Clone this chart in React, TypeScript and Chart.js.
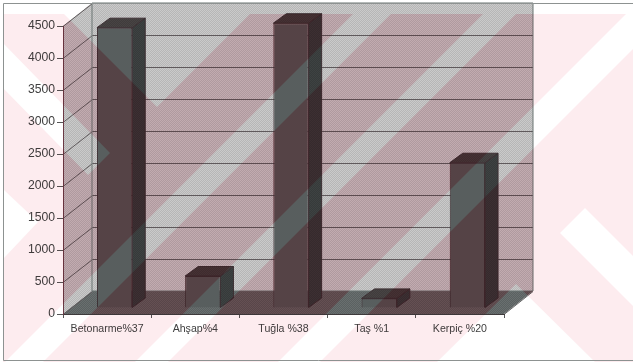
import React, { useEffect, useRef } from "react";
import { Chart, registerables } from "chart.js";

Chart.register(...registerables);

const categories = ["Betonarme%37", "Ahşap%4", "Tuğla %38", "Taş %1", "Kerpiç %20"];
const buildingCounts = [4380, 500, 4450, 150, 2270];

// Projection of the 3D box: wall depth and the bars' place inside it.
const WALL_DX = 29;
const WALL_DY = -23;
const BAR_SHIFT_X = 7.5;
const BAR_SHIFT_Y = -6;
const BAR_DX = 13;
const BAR_DY = -9.5;

type Pt = [number, number];

// Light shapes left open in the pale red backdrop.
const band = (s1: number, s2: number): Pt[] => [
  [s1 - 14, 14],
  [s2 - 14, 14],
  [s2 - 362, 362],
  [s1 - 362, 362],
];
const backdropOpenings: Pt[][] = [
  [[64, 14], [157, 107], [250, 14]],
  [[3, 43], [110, 153], [88, 175], [3, 88]],
  [[4, 190], [38, 222], [4, 258]],
  band(367, 405),
  band(497, 530),
  band(640, 682),
  [[516, 284], [437, 362], [595, 362]],
  [[560, 233], [585, 208], [633, 256], [633, 306]],
];

function grain(r: number, g: number, b: number, d: number): CanvasPattern {
  const tile = document.createElement("canvas");
  tile.width = 2;
  tile.height = 2;
  const c = tile.getContext("2d")!;
  const shade = (k: number) => `rgb(${r + k},${g + k},${b + k})`;
  c.fillStyle = shade(d);
  c.fillRect(0, 0, 2, 2);
  c.fillStyle = shade(-d);
  c.fillRect(1, 0, 1, 1);
  c.fillRect(0, 1, 1, 1);
  return c.createPattern(tile, "repeat")!;
}

function polygon(ctx: CanvasRenderingContext2D, pts: Pt[]) {
  ctx.moveTo(pts[0][0], pts[0][1]);
  pts.slice(1).forEach((p) => ctx.lineTo(p[0], p[1]));
  ctx.closePath();
}

function barFaces(el: any) {
  const { x, y, base, width } = el.getProps(["x", "y", "base", "width"], true);
  const l = x - width / 2 + BAR_SHIFT_X;
  const r = x + width / 2 + BAR_SHIFT_X;
  const t = y + BAR_SHIFT_Y;
  const b = base + BAR_SHIFT_Y;
  const front: Pt[] = [[l, t], [r, t], [r, b], [l, b]];
  const side: Pt[] = [[r, t], [r + BAR_DX, t + BAR_DY], [r + BAR_DX, b + BAR_DY], [r, b]];
  const top: Pt[] = [[l, t], [l + BAR_DX, t + BAR_DY], [r + BAR_DX, t + BAR_DY], [r, t]];
  return { front, side, top };
}

export default function App() {
  const ref = useRef<HTMLCanvasElement>(null);

  useEffect(() => {
    const wallFill = grain(192, 192, 192, 10);
    const floorFill = grain(98, 104, 104, 7);
    const frontFill = grain(88, 94, 94, 7);
    const sideFill = grain(58, 62, 62, 4);
    const topFill = grain(68, 64, 64, 4);

    const boxShapes = (chart: any) => {
      const { left, right, top, bottom } = chart.chartArea;
      const ceiling = top + WALL_DY;
      const back = bottom + WALL_DY;
      const sideWall: Pt[] = [[left, top], [left + WALL_DX, ceiling], [left + WALL_DX, back], [left, bottom]];
      const backWall: Pt[] = [[left + WALL_DX, ceiling], [right + WALL_DX, ceiling], [right + WALL_DX, back], [left + WALL_DX, back]];
      const floor: Pt[] = [[left, bottom], [left + WALL_DX, back], [right + WALL_DX, back], [right, bottom]];
      return { sideWall, backWall, floor };
    };

    const box3d = {
      id: "box3d",
      beforeDraw(chart: any) {
        const ctx: CanvasRenderingContext2D = chart.ctx;
        const { sideWall, backWall, floor } = boxShapes(chart);
        const { left, right } = chart.chartArea;
        ctx.save();
        ctx.fillStyle = "#ffffff";
        ctx.fillRect(0, 0, chart.width, chart.height);

        ctx.fillStyle = wallFill;
        [sideWall, backWall].forEach((s) => {
          ctx.beginPath();
          polygon(ctx, s);
          ctx.fill();
        });
        ctx.fillStyle = floorFill;
        ctx.beginPath();
        polygon(ctx, floor);
        ctx.fill();

        // Value lines run along the side wall, then across the back wall.
        ctx.lineWidth = 1;
        ctx.strokeStyle = "#5f5a5c";
        chart.scales.y.ticks.forEach((t: any) => {
          const py = Math.round(chart.scales.y.getPixelForValue(t.value)) + 0.5;
          ctx.beginPath();
          ctx.moveTo(left, py);
          ctx.lineTo(left + WALL_DX + 0.5, py + WALL_DY);
          if (t.value > 0) ctx.lineTo(right + WALL_DX, py + WALL_DY);
          ctx.stroke();
        });

        ctx.strokeStyle = "#6b7472";
        ctx.beginPath();
        polygon(ctx, backWall);
        ctx.stroke();
        ctx.strokeStyle = "#666666";
        ctx.beginPath();
        ctx.moveTo(right, floor[3][1] + 0.5);
        ctx.lineTo(right + WALL_DX, floor[2][1] + 0.5);
        ctx.stroke();
        ctx.restore();
      },
      beforeDatasetDraw(chart: any, args: any) {
        const ctx: CanvasRenderingContext2D = chart.ctx;
        ctx.save();
        ctx.strokeStyle = "#3d3034";
        ctx.lineWidth = 1;
        args.meta.data.forEach((el: any) => {
          const faces = barFaces(el);
          ctx.fillStyle = sideFill;
          ctx.beginPath();
          polygon(ctx, faces.side);
          ctx.fill();
          ctx.stroke();
          ctx.fillStyle = topFill;
          ctx.beginPath();
          polygon(ctx, faces.top);
          ctx.fill();
          ctx.stroke();
        });
        ctx.restore();
        ctx.save();
        ctx.translate(BAR_SHIFT_X, BAR_SHIFT_Y);
      },
      afterDatasetDraw(chart: any) {
        chart.ctx.restore();
      },
      afterDraw(chart: any) {
        const ctx: CanvasRenderingContext2D = chart.ctx;
        const { sideWall, backWall, floor } = boxShapes(chart);
        const barPolys: Pt[][] = [];
        chart.getDatasetMeta(0).data.forEach((el: any) => {
          const f = barFaces(el);
          barPolys.push(f.front, f.side, f.top);
        });

        const backdrop = () => {
          ctx.beginPath();
          ctx.rect(3, 14, chart.width - 3, chart.height - 14);
          backdropOpenings.forEach((s) => polygon(ctx, s));
          ctx.fill("evenodd");
        };
        const clipTo = (shapes: Pt[][]) => {
          ctx.beginPath();
          shapes.forEach((s) => polygon(ctx, s));
          ctx.clip();
        };

        ctx.save();
        ctx.globalCompositeOperation = "multiply";
        ctx.fillStyle = "rgb(253,236,239)";
        backdrop();

        // The tint reads stronger over the darker grey surfaces.
        ctx.save();
        clipTo([sideWall, backWall, floor, ...barPolys]);
        ctx.fillStyle = "rgb(248,234,238)";
        backdrop();
        ctx.restore();

        ctx.save();
        clipTo([floor, ...barPolys]);
        ctx.fillStyle = "rgb(255,214,218)";
        backdrop();
        ctx.restore();
        ctx.restore();

        // Thin outer frame of the chart.
        ctx.save();
        ctx.strokeStyle = "#8d9291";
        ctx.lineWidth = 1;
        ctx.beginPath();
        ctx.moveTo(chart.width, 3.5);
        ctx.lineTo(3.5, 3.5);
        ctx.lineTo(3.5, 360.5);
        ctx.lineTo(chart.width, 360.5);
        ctx.stroke();
        ctx.restore();
      },
    };

    const chart = new Chart(ref.current!, {
      type: "bar",
      data: {
        labels: categories,
        datasets: [
          {
            data: buildingCounts,
            backgroundColor: frontFill,
            borderColor: "#3d3034",
            borderWidth: 1,
            barPercentage: 0.4,
            categoryPercentage: 1,
            clip: false,
          },
        ],
      },
      options: {
        responsive: false,
        animation: false,
        events: [],
        layout: { padding: { left: 0, top: 26, right: 129, bottom: 0 } },
        plugins: { legend: { display: false }, title: { display: false }, tooltip: { enabled: false } },
        scales: {
          x: {
            grid: { drawOnChartArea: false, tickLength: 4, color: "#555555" },
            border: { color: "#3d3a3b" },
            ticks: {
              autoSkip: false,
              maxRotation: 0,
              padding: 5,
              color: "#404040",
              font: { family: "'Liberation Sans'", size: 10.6 },
            },
            afterFit: (s: any) => {
              s.height = 48;
            },
          },
          y: {
            min: 0,
            max: 4500,
            grid: { drawOnChartArea: false, tickLength: 6, color: "#555555" },
            border: { color: "#6a3a45" },
            ticks: {
              stepSize: 500,
              padding: 2,
              color: "#404040",
              font: { family: "'Liberation Sans'", size: 12.2 },
              callback: (v: any) => String(v),
            },
            afterFit: (s: any) => {
              s.width = 63;
            },
          },
        },
      },
      plugins: [box3d],
    } as any);

    return () => chart.destroy();
  }, []);

  return (
    <div style={{ position: "absolute", left: 0, top: 0, width: 633, height: 362 }}>
      <canvas ref={ref} width={633} height={362} style={{ display: "block" }} />
    </div>
  );
}
